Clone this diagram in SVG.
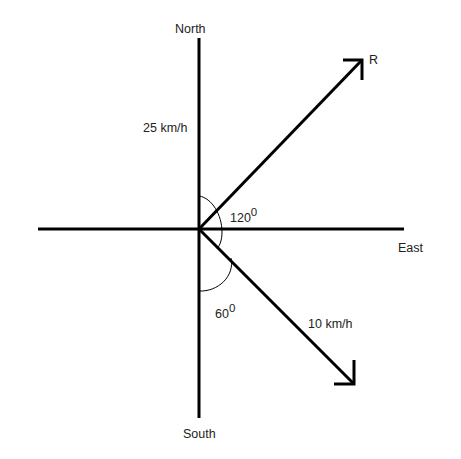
<svg xmlns="http://www.w3.org/2000/svg" width="461" height="459" viewBox="0 0 461 459">
<style>
.ax{stroke:#000;stroke-width:3;fill:none;stroke-linecap:butt}
.arc{stroke:#000;stroke-width:1;fill:none}
text{font-family:"Liberation Sans",Arial,sans-serif;font-size:12.5px;fill:#222}
.sup{font-size:11.5px}
</style>
<rect width="461" height="459" fill="#fff"/>
<g id="connectors">
<line class="ax" x1="199" y1="38" x2="199" y2="418"/>
<line class="ax" x1="38" y1="229" x2="404" y2="229"/>
<line class="ax" x1="199" y1="229" x2="361" y2="61"/>
<polyline class="ax" points="343,60 362,60 362,80"/>
<line class="ax" x1="199" y1="229" x2="353" y2="383"/>
<polyline class="ax" points="354,360 354,384 334,384"/>
<path class="arc" d="M199,196 C212,198 222,215 222,232 C222,240 220,245 217,249"/>
<path class="arc" d="M231,258 C235,276 218,292 199,291"/>
</g>
<g id="north"><text x="175" y="33">North</text></g>
<g id="south"><text x="183" y="438">South</text></g>
<g id="east"><text x="398" y="252">East</text></g>
<g id="r"><text x="369" y="64">R</text></g>
<g id="v25"><text x="143" y="132">25 km/h</text></g>
<g id="v10"><text x="308" y="328">10 km/h</text></g>
<g id="a120"><text x="230" y="222">120<tspan class="sup" dy="-6">0</tspan></text></g>
<g id="a60"><text x="215" y="318">60<tspan class="sup" dy="-6">0</tspan></text></g>
</svg>
